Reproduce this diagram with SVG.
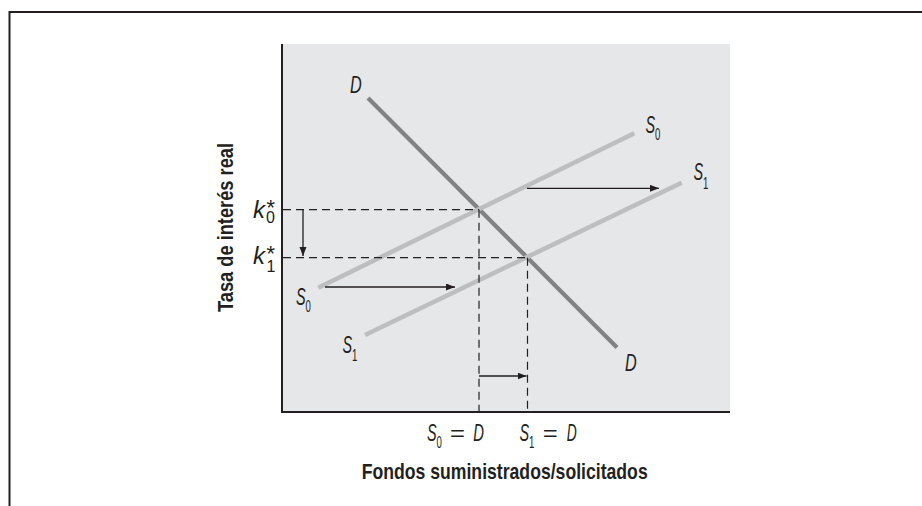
<svg xmlns="http://www.w3.org/2000/svg" width="922" height="506" viewBox="0 0 922 506">
  <style>
    .it { font-family: "Liberation Sans", Arial, sans-serif; font-style: italic; font-size: 24px; fill: #231f20; }
    .sub { font-family: "Liberation Sans", Arial, sans-serif; font-style: normal; font-size: 16px; fill: #231f20; }
    .eq { font-family: "Liberation Sans", Arial, sans-serif; font-size: 22px; fill: #231f20; }
    .ttl { font-family: "Liberation Sans", Arial, sans-serif; font-weight: bold; font-size: 22px; fill: #231f20; }
    .dash { stroke: #231f20; stroke-width: 1.2; stroke-dasharray: 8 5; fill: none; }
    .arr { stroke: #231f20; stroke-width: 1.3; fill: none; marker-end: url(#ah); }
    .axis { stroke: #231f20; stroke-width: 2; fill: none; }
    .sline { stroke: #bcbec0; stroke-width: 4.6; fill: none; }
    .dline { stroke: #808285; stroke-width: 4.2; fill: none; }
  </style>
  <defs>
    <marker id="ah" markerUnits="userSpaceOnUse" markerWidth="10" markerHeight="8" refX="9" refY="3.5" orient="auto">
      <path d="M0,0 L9,3.5 L0,7 z" fill="#231f20"/>
    </marker>
  </defs>
  <rect width="922" height="506" fill="#ffffff"/>
  <g id="frame">
    <path d="M9.5,506 V12 H922" stroke="#231f20" stroke-width="2" fill="none"/>
  </g>
  <g id="plot-area">
    <rect x="282" y="44" width="448" height="368" fill="#e6e7e8"/>
  </g>
  <g id="connectors">
    <line id="curve-D" class="dline" x1="368" y1="98" x2="617" y2="347.5"/>
    <line id="curve-S0" class="sline" x1="318.3" y1="287.7" x2="634.3" y2="133.3"/>
    <line id="curve-S1" class="sline" x1="365" y1="335" x2="681.7" y2="182.7"/>
    <line class="dash" x1="283" y1="209.7" x2="479" y2="209.7"/>
    <line class="dash" x1="283" y1="257.7" x2="527.5" y2="257.7"/>
    <line class="dash" x1="479" y1="209.7" x2="479" y2="411"/>
    <line class="dash" x1="527.5" y1="257.7" x2="527.5" y2="411"/>
    <line class="arr" x1="303" y1="210" x2="303" y2="256"/>
    <line class="arr" x1="325" y1="287" x2="455" y2="287"/>
    <line class="arr" x1="527" y1="188.3" x2="659" y2="188.3"/>
    <line class="arr" x1="479" y1="376" x2="526.5" y2="376"/>
  </g>
  <g id="axes">
    <path class="axis" d="M282,44 V412 H730"/>
  </g>
  <g id="label-D-top">
    <text class="it" x="350" y="92.7" textLength="11.7" lengthAdjust="spacingAndGlyphs">D</text>
  </g>
  <g id="label-D-bottom">
    <text class="it" x="625" y="370.7" textLength="11.7" lengthAdjust="spacingAndGlyphs">D</text>
  </g>
  <g id="label-S0-right">
    <text class="it" transform="translate(645.5,133.3) scale(0.6,1)">S<tspan class="sub" dy="7">0</tspan></text>
  </g>
  <g id="label-S1-right">
    <text class="it" transform="translate(693.5,180) scale(0.6,1)">S<tspan class="sub" dy="8.5">1</tspan></text>
  </g>
  <g id="label-S0-left">
    <text class="it" transform="translate(296,305) scale(0.6,1)">S<tspan class="sub" dy="7">0</tspan></text>
  </g>
  <g id="label-S1-left">
    <text class="it" transform="translate(342.5,353) scale(0.6,1)">S<tspan class="sub" dy="7.5">1</tspan></text>
  </g>
  <g id="label-k0">
    <text class="it" x="253" y="218.3">k<tspan class="sub" x="266" dy="4.7" font-size="15">0</tspan><tspan class="eq" x="265.5" dy="-8" font-size="18">*</tspan></text>
  </g>
  <g id="label-k1">
    <text class="it" x="253" y="264.3">k<tspan class="sub" x="266.5" dy="7.2" font-size="15">1</tspan><tspan class="eq" x="265.5" dy="-10.5" font-size="18">*</tspan></text>
  </g>
  <g id="label-S0eqD">
    <text class="it" transform="translate(427,440.5) scale(0.6,1)">S<tspan class="sub" dy="7.5">0</tspan></text>
    <text class="eq" x="450" y="440.5" textLength="15" lengthAdjust="spacingAndGlyphs">=</text>
    <text class="it" x="473.3" y="440.5" textLength="10.7" lengthAdjust="spacingAndGlyphs">D</text>
  </g>
  <g id="label-S1eqD">
    <text class="it" transform="translate(519.5,440.5) scale(0.6,1)">S<tspan class="sub" dy="7.5">1</tspan></text>
    <text class="eq" x="542.7" y="440.5" textLength="15" lengthAdjust="spacingAndGlyphs">=</text>
    <text class="it" x="566.7" y="440.5" textLength="10" lengthAdjust="spacingAndGlyphs">D</text>
  </g>
  <g id="x-title">
    <text class="ttl" x="361.7" y="479" textLength="286" lengthAdjust="spacingAndGlyphs">Fondos suministrados/solicitados</text>
  </g>
  <g id="y-title">
    <text class="ttl" transform="translate(232.5,227.5) rotate(-90)" text-anchor="middle" textLength="169" lengthAdjust="spacingAndGlyphs">Tasa de interés real</text>
  </g>
</svg>
